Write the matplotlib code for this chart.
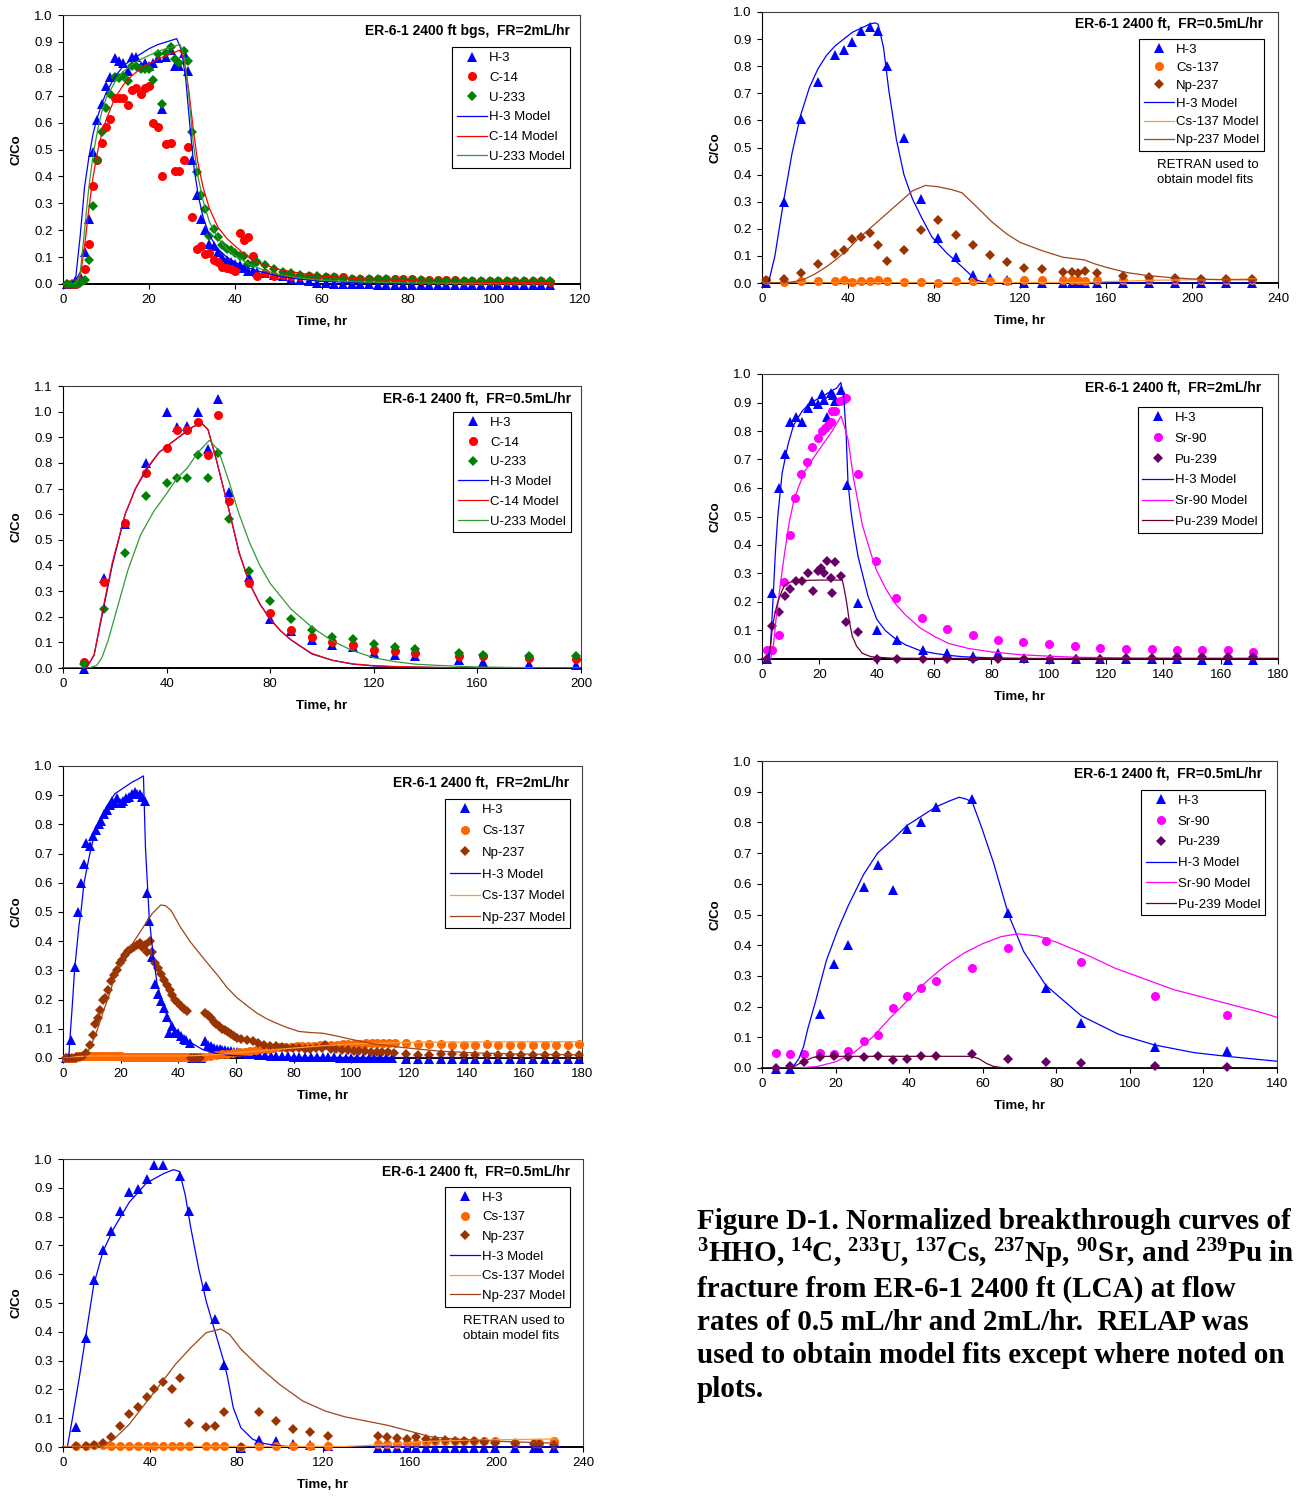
import matplotlib
matplotlib.use("Agg")
import numpy as np
import matplotlib.pyplot as plt
from matplotlib.lines import Line2D

plt.rcParams['font.family'] = ['Liberation Sans', 'DejaVu Sans']
plt.rcParams['mathtext.default'] = 'regular'

W, H = 1302, 1497

# ---------------- panel 1: FR=2 mL/hr, H-3 / C-14 / U-233 ----------------
p1_t = [1, 2, 3, 4, 5, 6, 7, 8, 9, 10, 11, 12, 13, 14, 15, 16, 17, 18, 19, 20,
        21, 22, 23, 24, 25, 26, 27, 28, 29, 30, 31, 32, 33, 34, 35, 36, 37, 38, 39, 40,
        41, 42, 43, 44, 45, 47, 49, 51, 53, 55, 57, 59, 61, 63, 65, 67, 69, 71, 73, 75,
        77, 79, 81, 83, 85, 87, 89, 91, 93, 95, 97, 99, 101, 103, 105, 107, 109, 111, 113]
p1_h3 = [0.0, 0.0, 0.01, 0.03, 0.12, 0.24, 0.49, 0.61, 0.67, 0.735, 0.77, 0.84, 0.83, 0.82, 0.79,
         0.845, 0.845, 0.81, 0.82, 0.81, 0.82, 0.84, 0.65, 0.845, 0.87, 0.81, 0.81, 0.86, 0.79, 0.46,
         0.33, 0.24, 0.2, 0.15, 0.14, 0.12, 0.10, 0.09, 0.08, 0.075, 0.07, 0.06, 0.05, 0.05, 0.045,
         0.04, 0.035, 0.03, 0.02, 0.015, 0.01, 0.005, 0.003, 0.0, 0.0, 0.0, 0.0, 0.0,
         -0.003, -0.003, -0.003, -0.003, -0.003, -0.003, -0.003, -0.003, -0.003, -0.003, -0.003,
         -0.003, -0.003, -0.003, -0.003, -0.003, -0.003, -0.003, -0.005, -0.005, -0.005]
p1_c14 = [0.0, 0.0, 0.0, 0.01, 0.055, 0.15, 0.365, 0.46, 0.525, 0.585, 0.615, 0.69, 0.69, 0.69, 0.665,
          0.72, 0.73, 0.705, 0.73, 0.735, 0.60, 0.585, 0.40, 0.52, 0.525, 0.42, 0.42, 0.46, 0.51, 0.25,
          0.13, 0.14, 0.11, 0.115, 0.09, 0.08, 0.065, 0.06, 0.055, 0.05, 0.19, 0.165, 0.175, 0.105, 0.03,
          0.04, 0.03, 0.035, 0.03, 0.03, 0.03, 0.025, 0.025, 0.025, 0.025, 0.02, 0.02, 0.02, 0.02, 0.02,
          0.018, 0.018, 0.018, 0.015, 0.015, 0.015, 0.015, 0.015, 0.012, 0.012, 0.012, 0.012,
          0.01, 0.01, 0.01, 0.01, 0.01, 0.01, 0.008]
p1_u233 = [0.0, 0.0, 0.0, 0.005, 0.015, 0.09, 0.29, 0.46, 0.565, 0.655, 0.705, 0.77, 0.765, 0.775, 0.755,
           0.81, 0.81, 0.80, 0.80, 0.80, 0.76, 0.855, 0.67, 0.86, 0.88, 0.835, 0.82, 0.865, 0.83, 0.565,
           0.415, 0.33, 0.28, 0.18, 0.205, 0.175, 0.145, 0.13, 0.125, 0.115, 0.105, 0.105, 0.075, 0.075, 0.08,
           0.07, 0.055, 0.045, 0.04, 0.035, 0.03, 0.03, 0.025, 0.025, 0.02, 0.02, 0.02, 0.02, 0.018, 0.018,
           0.015, 0.015, 0.015, 0.015, 0.012, 0.012, 0.012, 0.012,
           0.01, 0.01, 0.01, 0.01, 0.01, 0.01, 0.01, 0.01, 0.01, 0.01, 0.01]
p1m_h3_t = [0, 2, 3, 4, 5, 6, 7, 8, 9, 10, 12, 14, 16, 18, 20, 22, 24, 26.4, 27.5, 28.5, 29.5, 30.5,
            31.5, 32.5, 34, 36, 38, 40, 43, 46, 50, 55, 60, 70, 80, 113]
p1m_h3 = [0, 0, 0.03, 0.18, 0.36, 0.47, 0.56, 0.62, 0.67, 0.71, 0.77, 0.81, 0.835, 0.855, 0.875, 0.89,
          0.9, 0.912, 0.87, 0.76, 0.58, 0.42, 0.32, 0.25, 0.18, 0.13, 0.1, 0.08, 0.06, 0.045, 0.03,
          0.018, 0.01, 0.004, 0.002, 0.0]
p1m_c14_t = [0, 3, 4, 5, 6, 7, 8, 9, 10, 12, 14, 16, 18, 20, 22, 24, 26, 27.2, 28.2, 29.2, 30.2, 31.2,
             32.5, 34, 36, 38, 40, 43, 46, 50, 55, 60, 70, 80, 90, 113]
p1m_c14 = [0, 0, 0.03, 0.14, 0.28, 0.4, 0.49, 0.56, 0.61, 0.69, 0.74, 0.775, 0.8, 0.82, 0.835, 0.85,
           0.862, 0.87, 0.83, 0.72, 0.58, 0.46, 0.36, 0.28, 0.21, 0.17, 0.14, 0.1, 0.075, 0.055, 0.04,
           0.03, 0.018, 0.012, 0.008, 0.005]
p1m_u233_t = [0, 3, 4, 5, 6, 7, 8, 9, 10, 12, 14, 16, 18, 20, 22, 24, 26, 27.2, 28.2, 29.2, 30.2, 31.2,
              32.5, 34, 36, 38, 40, 43, 46, 50, 55, 60, 70, 80, 100, 113]
p1m_u233 = [0, 0, 0.04, 0.2, 0.36, 0.48, 0.57, 0.64, 0.69, 0.75, 0.79, 0.815, 0.835, 0.85, 0.865, 0.875,
            0.885, 0.89, 0.84, 0.7, 0.53, 0.41, 0.31, 0.23, 0.17, 0.13, 0.105, 0.075, 0.055, 0.035,
            0.022, 0.014, 0.007, 0.004, 0.001, 0.0]

# ---------------- panel 2: FR=0.5 mL/hr, H-3 / Cs-137 / Np-237 (RETRAN) ----------------
p2_t = [2, 10, 18, 26, 34, 38, 42, 46, 50, 54, 58, 66, 74, 82, 90, 98, 106, 114, 122, 130,
        140, 144, 147, 150, 156, 168, 180, 192, 204, 216, 228]
p2_h3 = [0, 0.3, 0.605, 0.74, 0.84, 0.86, 0.89, 0.93, 0.945, 0.93, 0.80, 0.535, 0.31, 0.165, 0.095,
         0.03, 0.02, 0.01, 0, 0, 0, 0, 0, 0, 0, 0, 0, 0, 0, 0, 0]
p2_cs = [0.01, 0.005, 0.008, 0.008, 0.008, 0.01, 0.005, 0.007, 0.007, 0.01, 0.007, 0.004, 0.004, 0.0,
         0.007, 0.007, 0.007, 0.007, 0.01, 0.01, 0.01, 0.01, 0.01, 0.007, 0.01, 0.01, 0.01, 0.01,
         0.01, 0.01, 0.01]
p2_np = [0.01, 0.015, 0.036, 0.07, 0.106, 0.123, 0.163, 0.17, 0.183, 0.14, 0.082, 0.123, 0.194, 0.234,
         0.176, 0.14, 0.103, 0.076, 0.056, 0.05, 0.04, 0.04, 0.038, 0.046, 0.037, 0.027, 0.022, 0.02,
         0.016, 0.015, 0.016]
p2m_h3_t = [0, 3, 6, 10, 14, 18, 22, 26, 30, 34, 38, 42, 46, 50, 52.5, 54, 56.5, 59, 62.5, 66, 70,
            74, 79, 86, 93, 97, 100, 104, 110, 130, 230]
p2m_h3 = [0, 0, 0.1, 0.3, 0.48, 0.62, 0.72, 0.79, 0.84, 0.875, 0.9, 0.925, 0.94, 0.955, 0.96, 0.955,
          0.87, 0.71, 0.53, 0.40, 0.31, 0.245, 0.17, 0.11, 0.06, 0.03, 0.01, 0.002, 0, 0, 0]
p2m_cs_t = [0, 150, 160, 170, 180, 200, 215, 230]
p2m_cs = [0, 0.002, 0.005, 0.007, 0.01, 0.012, 0.013, 0.015]
p2m_np_t = [0, 10, 15, 20, 25, 30, 35, 40, 45, 50, 55, 60, 65, 70, 76, 82, 88, 93, 100, 107, 114,
            120, 130, 140, 145, 150, 155, 160, 170, 180, 190, 200, 215, 230]
p2m_np = [0, 0, 0.005, 0.015, 0.035, 0.06, 0.09, 0.125, 0.165, 0.2, 0.235, 0.27, 0.305, 0.34, 0.36,
          0.355, 0.345, 0.333, 0.28, 0.225, 0.18, 0.15, 0.12, 0.095, 0.09, 0.085, 0.07, 0.058, 0.038,
          0.027, 0.02, 0.015, 0.012, 0.012]

# ---------------- panel 3: FR=0.5 mL/hr, H-3 / C-14 / U-233 ----------------
p3_t = [8, 16, 24, 32, 40, 44, 48, 52, 56, 60, 64, 72, 80, 88, 96, 104, 112, 120, 128, 136,
        153, 162, 180, 198]
p3_h3 = [-0.005, 0.35, 0.56, 0.80, 1.0, 0.94, 0.945, 1.0, 0.855, 1.05, 0.685, 0.355, 0.19, 0.145,
         0.11, 0.09, 0.08, 0.06, 0.05, 0.045, 0.03, 0.025, 0.015, 0.01]
p3_c14 = [0.025, 0.335, 0.565, 0.76, 0.86, 0.93, 0.93, 0.96, 0.83, 0.985, 0.65, 0.33, 0.215, 0.15,
          0.12, 0.10, 0.09, 0.07, 0.065, 0.06, 0.045, 0.045, 0.04, 0.035]
p3_u233 = [0.015, 0.23, 0.45, 0.67, 0.72, 0.74, 0.74, 0.83, 0.74, 0.84, 0.58, 0.38, 0.26, 0.19, 0.15,
           0.12, 0.115, 0.095, 0.08, 0.075, 0.06, 0.05, 0.045, 0.045]
p3m_t = [0, 9, 12, 15, 19, 24, 28, 32, 37, 42, 46, 50, 53.5, 56, 59, 62, 64, 68, 72, 76, 80, 84, 88,
         96, 104, 112, 120, 130, 150, 200]
p3m_h3 = [0, 0, 0.05, 0.2, 0.4, 0.6, 0.7, 0.77, 0.84, 0.88, 0.91, 0.94, 0.955, 0.93, 0.82, 0.7, 0.62,
          0.45, 0.33, 0.25, 0.19, 0.145, 0.11, 0.055, 0.03, 0.015, 0.008, 0.004, 0.001, 0]
p3m_c14 = [0, 0, 0.05, 0.21, 0.41, 0.6, 0.7, 0.775, 0.84, 0.88, 0.91, 0.94, 0.955, 0.93, 0.82, 0.7,
           0.62, 0.45, 0.33, 0.25, 0.19, 0.145, 0.11, 0.057, 0.03, 0.016, 0.009, 0.005, 0.001, 0]
p3m_u233_t = [0, 10, 13, 15, 17.5, 20, 22.5, 25, 30, 35, 40, 44, 48, 52, 56.5, 60, 64, 68, 72, 76, 80,
              88, 96, 104, 112, 120, 128, 136, 145, 160, 180, 200]
p3m_u233 = [0, 0, 0.01, 0.04, 0.11, 0.2, 0.29, 0.38, 0.52, 0.61, 0.68, 0.74, 0.78, 0.84, 0.888, 0.85,
            0.73, 0.6, 0.49, 0.40, 0.33, 0.23, 0.16, 0.105, 0.067, 0.04, 0.025, 0.015, 0.01, 0.004,
            0.001, 0]

# ---------------- panel 4: FR=2 mL/hr, H-3 / Sr-90 / Pu-239 ----------------
p4_h3_t = [1.6, 3.6, 6, 8, 9.7, 11.7, 13.9, 15.9, 17.6, 19.5, 20.9, 21.7, 22.8, 23.9, 24.8, 25.5, 27.6,
           29.6, 33.5, 40, 47.1, 56, 64.7, 73.6, 82.4, 91.5, 100.3, 109.4, 118, 127, 135.9, 144.7,
           153.5, 162.4, 171.3]
p4_h3 = [0, 0.23, 0.60, 0.72, 0.83, 0.85, 0.83, 0.88, 0.905, 0.895, 0.93, 0.91, 0.85, 0.935, 0.925,
         0.905, 0.945, 0.61, 0.195, 0.10, 0.065, 0.03, 0.02, 0.01, 0.02, 0.005, 0, 0, 0, 0, 0, 0,
         -0.005, -0.005, -0.005]
p4_sr_t = [1.6, 3.6, 6, 7.7, 9.7, 11.5, 13.7, 15.6, 17.6, 19.5, 20.8, 21.9, 22.9, 23.9, 24.5, 25.5, 27.2,
           28.2, 29.4, 33.5, 39.8, 46.7, 55.7, 64.6, 73.6, 82.4, 91.2, 100.1, 109.1, 118, 127, 135.9,
           144.7, 153.5, 162.4, 171.3]
p4_sr = [0.03, 0.03, 0.085, 0.27, 0.435, 0.565, 0.65, 0.69, 0.745, 0.775, 0.80, 0.81, 0.82, 0.83, 0.87,
         0.87, 0.905, 0.91, 0.915, 0.65, 0.345, 0.215, 0.145, 0.105, 0.083, 0.068, 0.06, 0.053, 0.046,
         0.04, 0.036, 0.036, 0.033, 0.033, 0.032, 0.025]
p4_pu_t = [1.6, 3.6, 6, 8, 9.9, 11.7, 13.9, 15.9, 17.9, 19.5, 20.5, 21.5, 22.8, 23.9, 24.5, 25.6, 27.6,
           29.4, 33.5, 40, 47.1, 56, 64.7, 73.6, 82.4, 91.5, 100.3, 109.4, 118, 127, 135.9, 144.7,
           153.5, 162.4, 171.3]
p4_pu = [0, 0.115, 0.165, 0.22, 0.245, 0.275, 0.275, 0.30, 0.24, 0.31, 0.32, 0.30, 0.345, 0.285, 0.23,
         0.34, 0.29, 0.13, 0.095, 0, 0, 0, 0, 0, 0, 0, 0, 0, 0, 0.005, 0.003, 0.007, 0.007, 0.007, 0.007]
p4m_h3_t = [0, 2, 3, 3.8, 4.7, 5.5, 7, 9, 11, 14, 17, 21, 24, 26, 27.5, 28.5, 29.3, 30, 31, 32, 33.5,
            35, 37, 40, 43, 46, 50, 55, 60, 65, 70, 80, 95, 180]
p4m_h3 = [0, 0, 0.05, 0.2, 0.38, 0.5, 0.65, 0.75, 0.82, 0.87, 0.9, 0.92, 0.94, 0.95, 0.97, 0.92, 0.8,
          0.62, 0.52, 0.45, 0.36, 0.3, 0.22, 0.14, 0.1, 0.075, 0.05, 0.03, 0.02, 0.013, 0.008, 0.004,
          0.001, 0]
p4m_sr_t = [0, 3, 4, 5, 6.5, 8, 9.5, 11, 12.6, 15, 17.6, 21, 24.5, 27.6, 29.2, 30, 31, 32, 33.5, 35,
            38, 40, 43, 46, 50, 55, 60, 65, 72, 80, 90, 100, 110, 130, 180]
p4m_sr = [0, 0, 0.05, 0.15, 0.27, 0.38, 0.48, 0.55, 0.6, 0.66, 0.7, 0.75, 0.8, 0.852, 0.8, 0.77, 0.7,
          0.63, 0.55, 0.47, 0.37, 0.31, 0.25, 0.2, 0.155, 0.11, 0.08, 0.055, 0.037, 0.025, 0.015, 0.01,
          0.006, 0.003, 0.002]
p4m_pu_t = [0, 2.5, 3.5, 4.5, 5.5, 7, 8, 10, 12, 20, 28, 28.6, 29.5, 30.5, 31.5, 33, 35, 38, 45, 60, 180]
p4m_pu = [0, 0, 0.1, 0.16, 0.2, 0.24, 0.26, 0.27, 0.275, 0.277, 0.277, 0.25, 0.2, 0.13, 0.08, 0.045,
          0.02, 0.008, 0.003, 0.002, 0.002]

# ---------------- panel 5: FR=2 mL/hr, H-3 / Cs-137 / Np-237 ----------------
p5_h3_t = [1.0, 1.8, 2.7, 4.3, 5.3, 6.3, 7.3, 8.0, 9.3, 10.4, 11.6, 12.4, 13.3, 14.2, 15.3, 16.2, 17.0,
           18.0, 18.9, 20.0, 20.9, 22.0, 22.9, 24.0, 24.9, 25.7, 26.6, 27.3, 28.3, 29.0, 29.9, 30.9,
           31.9, 32.9, 33.9, 35.0, 35.9, 36.8, 37.9, 38.8, 39.9, 40.8, 41.9, 42.8, 43.9, 44.9, 46.0,
           47.0, 48.0, 49.2, 50.3, 51.3, 52.3, 53.3, 54.3, 55.3, 56.3, 57.3, 58.3, 59.3, 60.5,
           62, 64, 66, 68, 70, 72, 74, 76, 78, 80, 82, 84, 86, 88, 90, 92, 94, 96, 98, 100, 102, 104,
           106, 108, 110, 112, 114, 119, 123, 127, 131, 135, 139, 143, 147, 151, 155, 159, 163, 167,
           171, 175, 179]
p5_h3 = [0, 0, 0.063, 0.31, 0.5, 0.6, 0.665, 0.735, 0.725, 0.76, 0.78, 0.80, 0.81, 0.835, 0.85, 0.865,
         0.88, 0.875, 0.89, 0.875, 0.88, 0.89, 0.895, 0.905, 0.91, 0.905, 0.905, 0.895, 0.88, 0.565,
         0.47, 0.345, 0.255, 0.22, 0.195, 0.17, 0.14, 0.085, 0.11, 0.09, 0.085, 0.075, 0.065, 0.06,
         0.05, 0, 0, 0, 0, 0.057, 0.045, 0.04, 0.035, 0.03, 0.03, 0.028, 0.027, 0.025, 0.025, 0.022,
         0.02, 0.018, 0.015, 0.012, 0.01, 0.01, 0.008, 0.008, 0.007, 0.006, 0.005, 0.005, 0.004,
         0.004, 0.003, 0.003, 0.002, 0.002, 0.001, 0.001, 0, 0, 0, 0, 0, 0, 0, 0,
         -0.005, -0.005, -0.005, -0.005, -0.005, -0.005, -0.005, -0.005, -0.005, -0.005, -0.005,
         -0.005, -0.005, -0.005, -0.005, -0.005]
p5_cs_t = [1, 2, 3, 4, 5, 6, 7, 8, 9, 10, 11, 12, 13, 14, 15, 16, 17, 18, 19, 20, 21, 22, 23, 24,
           25, 26, 27, 28, 29, 30, 31, 32, 33, 34, 35, 36, 37, 38, 39, 40, 41, 42, 43, 44, 45, 46,
           47, 48, 49, 51, 53, 55, 57, 59, 61, 63, 65, 67, 69, 71, 73, 75, 77, 79, 81, 83, 85, 87,
           89, 91, 93, 95, 97, 99, 101, 103, 105, 107, 109, 111, 113, 115, 119, 123, 127, 131, 135,
           139, 143, 147, 151, 155, 159, 163, 167, 171, 175, 179]
p5_cs = [0.0, 0.0, 0.0, 0.0, 0.006, 0.006, 0.006, 0.006, 0.006, 0.006, 0.006, 0.006, 0.006, 0.006,
         0.006, 0.006, 0.006, 0.006, 0.006, 0.006, 0.003, 0.003, 0.003, 0.003, 0.003, 0.003, 0.003,
         0.003, 0.003, 0.003, 0.003, 0.003, 0.003, 0.003, 0.003, 0.003, 0.003, 0.003, 0.003, 0.003,
         0.003, 0.003, 0.003, 0.003, 0.003, 0.003, 0.003, 0.003,
         0.005, 0.008, 0.01, 0.012, 0.015, 0.018, 0.02, 0.022, 0.025, 0.027, 0.03, 0.032, 0.034,
         0.036, 0.037, 0.038, 0.04, 0.04, 0.041, 0.042, 0.044, 0.045, 0.046, 0.046, 0.047, 0.048,
         0.048, 0.049, 0.05, 0.05, 0.05, 0.05, 0.05, 0.05,
         0.05, 0.048, 0.047, 0.047, 0.046, 0.046, 0.046, 0.047, 0.046, 0.045, 0.045, 0.045, 0.045,
         0.046, 0.046, 0.048]
p5_np_t = [1, 2, 3, 4, 5, 6, 7, 8, 9.3, 10.4, 11, 12, 12.9, 13.7, 14.6, 15.7, 16.6, 17.6, 18.6, 19.6,
           20.6, 21.6, 22.6, 23.7, 24.6, 25.5, 26.6, 27.5, 28.6, 29.3, 30.2, 31, 31.9, 32.9, 33.9,
           35, 35.9, 37, 37.9, 39, 39.9, 41, 41.9, 43, 44.5, 45.5, 46.5, 47.5, 49.2, 50.3, 51.2, 52.3,
           53.2, 54.1, 55.2, 56.3, 57.2, 58.3, 59.2, 60.5, 61.9, 63.9, 65.9, 67.8, 69.8, 71.8, 73.8,
           75.8, 77.8, 79.8, 81.8, 83.8, 85.8, 87.8, 89.8, 91, 92.8, 94.8, 96.8, 98.8, 100.8, 102.8,
           104.8, 106.8, 108.8, 110.8, 112.8, 114.8, 119, 123, 127, 131, 135, 139, 143, 147, 151,
           155, 159, 163, 167, 171, 175, 179]
p5_np = [0, 0, 0, 0, 0.003, 0.005, 0.008, 0.017, 0.045, 0.08, 0.115, 0.137, 0.165, 0.2, 0.205, 0.233,
         0.262, 0.285, 0.30, 0.325, 0.336, 0.353, 0.367, 0.372, 0.38, 0.387, 0.395, 0.38, 0.387, 0.364,
         0.402, 0.364, 0.325, 0.307, 0.288, 0.268, 0.25, 0.233, 0.216, 0.2, 0.188, 0.177, 0.167, 0.16,
         0, 0, 0, 0, 0.154, 0.148, 0.137, 0.125, 0.117, 0.11, 0.1, 0.097, 0.088, 0.083, 0.076, 0.07,
         0.066, 0.06, 0.057, 0.051, 0.045, 0.042, 0.04, 0.036, 0.035, 0.034, 0.033, 0.032, 0.032,
         0.033, 0.035, 0.045, 0.032, 0.03, 0.028, 0.026, 0.025, 0.024, 0.023, 0.022, 0.021, 0.02,
         0.02, 0.017, 0.015, 0.011, 0.011, 0.015, 0.013, 0.011, 0.01, 0.011, 0.011, 0.011, 0.011,
         0.011, 0.011, 0.009, 0.009, 0.009]
p5m_h3_t = [0, 1.5, 2, 2.5, 3.3, 4, 4.7, 5.5, 6.3, 7.3, 8.9, 10, 11.3, 13, 15, 18, 21, 24, 26, 27.9,
            28.6, 29.9, 31.3, 32.6, 35.2, 37.8, 40.4, 44.6, 48.6, 52.5, 57.9, 65, 75, 90, 180]
p5m_h3 = [0, 0, 0.0, 0.08, 0.19, 0.3, 0.37, 0.45, 0.507, 0.6, 0.68, 0.73, 0.78, 0.82, 0.86, 0.905,
          0.925, 0.945, 0.955, 0.966, 0.72, 0.48, 0.35, 0.256, 0.165, 0.108, 0.072, 0.051, 0.028,
          0.017, 0.009, 0.005, 0.003, 0.002, 0.001]
p5m_cs_t = [0, 3, 5, 10, 20, 30, 40, 45, 50, 55, 60, 65, 70, 75, 80, 85, 90, 95, 100, 110, 120, 130,
            150, 180]
p5m_cs = [0, 0.002, 0.005, 0.007, 0.007, 0.007, 0.007, 0.008, 0.01, 0.013, 0.018, 0.022, 0.026, 0.03,
          0.034, 0.038, 0.042, 0.045, 0.048, 0.051, 0.053, 0.054, 0.055, 0.056]
p5m_np_t = [0, 7, 8, 9, 10.6, 12, 14, 16, 18, 20, 23.3, 26, 28.6, 31, 33.9, 35.5, 37.5, 40.6, 44, 47.2,
            50.5, 53.9, 57, 60.5, 64, 67.2, 70.5, 73.8, 77.5, 81.8, 86, 90, 95, 100.4, 108, 117.7,
            131, 144, 157.6, 180]
p5m_np = [0, 0, 0.011, 0.03, 0.063, 0.1, 0.16, 0.215, 0.28, 0.32, 0.38, 0.42, 0.46, 0.495, 0.524, 0.522,
          0.505, 0.45, 0.4, 0.36, 0.32, 0.28, 0.24, 0.205, 0.178, 0.154, 0.135, 0.12, 0.105, 0.091,
          0.087, 0.085, 0.075, 0.063, 0.048, 0.036, 0.023, 0.017, 0.014, 0.011]

# ---------------- panel 6: FR=0.5 mL/hr, H-3 / Sr-90 / Pu-239 ----------------
p6_t = [3.9, 7.7, 11.5, 15.7, 19.6, 23.5, 27.6, 31.4, 35.6, 39.4, 43.3, 47.2, 57.2, 67, 77.1, 86.8,
        106.7, 126.3]
p6_h3_t = [3.9, 7.7, 15.7, 19.6, 23.5, 27.6, 31.4, 35.6, 39.4, 43.3, 47.2, 57.2, 67, 77.1, 86.8,
           106.7, 126.3]
p6_h3 = [-0.003, -0.003, 0.175, 0.34, 0.40, 0.59, 0.66, 0.58, 0.78, 0.80, 0.85, 0.875, 0.505, 0.26,
         0.145, 0.07, 0.055]
p6_sr = [0.05, 0.045, 0.045, 0.05, 0.045, 0.055, 0.088, 0.108, 0.195, 0.235, 0.26, 0.285, 0.325, 0.39,
         0.415, 0.345, 0.235, 0.173]
p6_pu = [0.0, 0.005, 0.02, 0.035, 0.04, 0.035, 0.035, 0.038, 0.025, 0.028, 0.04, 0.04, 0.045, 0.028,
         0.02, 0.017, 0.005, 0.003]
p6m_h3_t = [0, 7, 8.2, 10, 11.3, 12.5, 14.4, 17.5, 20.6, 23.5, 27.6, 31.4, 35.6, 39.4, 43.3, 47.2, 51,
            53.6, 55.7, 57.2, 59.8, 62.9, 67, 71.1, 77.1, 86.8, 96.9, 106.7, 117.5, 126.3, 140]
p6m_h3 = [0, 0, 0, 0.03, 0.07, 0.13, 0.21, 0.35, 0.45, 0.53, 0.63, 0.7, 0.745, 0.79, 0.82, 0.85, 0.87,
          0.882, 0.875, 0.865, 0.78, 0.67, 0.5, 0.38, 0.27, 0.17, 0.11, 0.075, 0.05, 0.038, 0.022]
p6m_sr_t = [0, 10, 15, 20, 25, 30, 35, 40, 45, 50, 55, 60, 65, 69.6, 75, 80, 88, 96, 104, 112, 120,
            128, 136, 140]
p6m_sr = [0, 0, 0.005, 0.02, 0.05, 0.1, 0.165, 0.225, 0.285, 0.335, 0.375, 0.405, 0.428, 0.437, 0.43,
          0.41, 0.37, 0.325, 0.29, 0.255, 0.23, 0.205, 0.18, 0.165]
p6m_pu_t = [0, 8, 11, 14, 17, 57, 59, 61, 63, 66, 140]
p6m_pu = [0, 0, 0.02, 0.035, 0.038, 0.038, 0.03, 0.015, 0.005, 0, 0]

# ---------------- panel 7: FR=0.5 mL/hr, H-3 / Cs-137 / Np-237 (RETRAN) ----------------
p7_t = [6.2, 10.5, 14.2, 18.5, 22.2, 26.5, 30.6, 34.5, 38.6, 42.1, 46.2, 50.1, 54.2, 58.1, 66.1, 70.2,
        74.5, 82.1, 90.5, 98.1, 106.1, 114.1, 122.1, 145.2, 149.7, 154.1, 158.6, 163, 167.5, 171.9,
        176.4, 180.8, 185.2, 189.7, 194.1, 199.5, 208.4, 217.2, 219.9, 226.7]
p7_h3_t = [6.2, 10.5, 14.2, 18.5, 22.2, 26.5, 30.6, 34.5, 38.6, 42.1, 46.2, 54.2, 58.1, 66.1, 70.2,
           74.5, 82.1, 90.5, 98.1, 106.1, 114.1, 122.1, 145.2, 149.7, 154.1, 158.6, 163, 167.5, 171.9,
           176.4, 180.8, 185.2, 189.7, 194.1, 199.5, 208.4, 217.2, 219.9, 226.7]
p7_h3 = [0.07, 0.38, 0.58, 0.685, 0.75, 0.82, 0.885, 0.895, 0.93, 0.98, 0.98, 0.94, 0.82, 0.56, 0.445,
         0.285, -0.005, 0.025, 0.02, 0.012, 0.008, 0.005, -0.003, -0.003, -0.003, -0.003, -0.003,
         -0.003, -0.003, -0.003, -0.003, -0.005, -0.005, -0.005, -0.005, -0.005, -0.005, -0.005,
         -0.005]
p7_cs = [0.005, 0.005, 0.008, 0.008, 0.005, 0.003, 0.002, 0.002, 0.003, 0.002, 0.002, 0.002, 0.004,
         0.005, 0.005, 0.005, 0.005, 0.0, 0.002, 0.002, 0.005, 0.005, 0.005, 0.01, 0.01, 0.012, 0.015,
         0.015, 0.018, 0.02, 0.02, 0.02, 0.02, 0.022, 0.02, 0.02, 0.015, 0.015, 0.015, 0.02]
p7_np = [0.005, 0.005, 0.008, 0.015, 0.035, 0.072, 0.113, 0.14, 0.175, 0.2, 0.225, 0.2, 0.24, 0.082,
         0.068, 0.072, 0.123, 0.0, 0.12, 0.09, 0.064, 0.052, 0.038, 0.037, 0.034, 0.032, 0.027, 0.035,
         0.027, 0.023, 0.023, 0.021, 0.02, 0.02, 0.018, 0.015, 0.013, 0.01, 0.01, 0.008]
p7m_h3_t = [0, 2, 3.9, 7.5, 10.5, 14.2, 18.5, 23.5, 30.6, 38.6, 46.6, 51, 53.7, 56.4, 59, 62.6, 66.1,
            70.2, 74.1, 76, 78.6, 82.1, 87.5, 92.8, 98, 105, 120, 230]
p7m_h3 = [0, 0, 0.08, 0.24, 0.385, 0.564, 0.68, 0.76, 0.85, 0.917, 0.95, 0.963, 0.957, 0.876, 0.76,
          0.62, 0.506, 0.40, 0.3, 0.24, 0.136, 0.067, 0.027, 0.012, 0.006, 0.001, 0, 0]
p7m_cs_t = [0, 130, 140, 150, 160, 170, 180, 200, 228]
p7m_cs = [0.002, 0.002, 0.005, 0.01, 0.015, 0.02, 0.022, 0.025, 0.028]
p7m_np_t = [0, 15, 18.1, 23.5, 30.6, 37.7, 44.8, 51.9, 59, 66.1, 72.9, 77, 82.1, 91, 100, 110.6, 121,
            130, 140, 150, 160, 170, 180, 200, 228]
p7m_np = [0, 0, 0.003, 0.027, 0.079, 0.148, 0.217, 0.287, 0.345, 0.397, 0.41, 0.39, 0.34, 0.275, 0.217,
          0.16, 0.125, 0.105, 0.09, 0.075, 0.055, 0.035, 0.028, 0.02, 0.013]

CAPTION = [
    "Figure D-1. Normalized breakthrough curves of",
    "$^{3}$HHO, $^{14}$C, $^{233}$U, $^{137}$Cs, $^{237}$Np, $^{90}$Sr, and $^{239}$Pu in",
    "fracture from ER-6-1 2400 ft (LCA) at flow",
    "rates of 0.5 mL/hr and 2mL/hr.  RELAP was",
    "used to obtain model fits except where noted on",
    "plots.",
]

# colours
BLUE = '#0000FF'
RED = '#FF0000'
GREEN_M, GREEN_L = '#008000', '#339933'
ORANGE_M, ORANGE_L = '#FF6600', '#FF9933'
BROWN_M, BROWN_L = '#993300', '#A0451A'
MAGENTA = '#FF00FF'
PURPLE_M, PURPLE_L = '#660066', '#660033'

TRI = ('^', 7.0)
CIR = ('o', 6.5)
DIA = ('D', 5.2)


def rect(l, t, r, b):
    return [l / W, 1 - b / H, (r - l) / W, (b - t) / H]


def panel(ax, xmax, xstep, ymax, title, title_xy, series, models, leg_xy, leg_space, note_xy=None):
    for t, y, (mk, ms), col, lab in series:
        ax.plot(t, y, ls='none', marker=mk, ms=ms, color=col, mew=0, clip_on=False, zorder=3)
    for t, y, col, lab in models:
        ax.plot(t, y, color=col, lw=0.9, zorder=4)

    ax.set_xlim(0, xmax)
    ax.set_ylim(0, ymax)
    ax.set_xticks(np.arange(0, xmax + 1, xstep))
    yt = np.arange(0, ymax + 0.001, 0.1)
    ax.set_yticks(yt)
    ax.set_yticklabels([f'{v:.1f}' for v in yt])
    ax.tick_params(direction='out', length=3.5, width=0.8, labelsize=9.5, pad=4,
                   top=False, right=False)
    for s in ('top', 'right'):
        ax.spines[s].set_color('#404040')
        ax.spines[s].set_linewidth(0.8)
    ax.spines['left'].set_linewidth(0.8)
    ax.spines['bottom'].set_linewidth(1.4)
    ax.set_xlabel('Time, hr', fontsize=9.5, fontweight='bold', labelpad=7)
    ax.set_ylabel('C/Co', fontsize=9.5, fontweight='bold', labelpad=8)

    ax.text(title_xy[0], title_xy[1], title, transform=ax.transAxes, ha='right', va='center',
            fontsize=10, fontweight='bold')

    handles = [Line2D([], [], ls='none', marker=mk, ms=ms, color=col, mew=0)
               for t, y, (mk, ms), col, lab in series]
    handles += [Line2D([], [], color=col, lw=0.9) for t, y, col, lab in models]
    labels = [s[-1] for s in series] + [m[-1] for m in models]
    leg = ax.legend(handles, labels, loc='upper right', bbox_to_anchor=leg_xy, borderaxespad=0,
                    fontsize=9.5, frameon=True, fancybox=False, edgecolor='black', framealpha=1,
                    handlelength=2.3, handletextpad=0.15, labelspacing=leg_space, borderpad=0.35)
    leg.get_frame().set_linewidth(0.8)

    if note_xy is not None:
        ax.text(note_xy[0], note_xy[1], 'RETRAN used to\nobtain model fits', transform=ax.transAxes,
                ha='left', va='top', fontsize=9.5, linespacing=1.3)


fig = plt.figure(figsize=(W / 100, H / 100), dpi=100)

ax1 = fig.add_axes(rect(63, 15, 580, 284))
panel(ax1, 120, 20, 1.0, 'ER-6-1 2400 ft bgs,  FR=2mL/hr', (0.98, 0.94),
      [(p1_t, p1_h3, TRI, BLUE, 'H-3'), (p1_t, p1_c14, CIR, RED, 'C-14'),
       (p1_t, p1_u233, DIA, GREEN_M, 'U-233')],
      [(p1m_h3_t, p1m_h3, BLUE, 'H-3 Model'), (p1m_c14_t, p1m_c14, RED, 'C-14 Model'),
       (p1m_u233_t, p1m_u233, GREEN_L, 'U-233 Model')],
      (0.98, 0.88), 0.57)

ax2 = fig.add_axes(rect(762, 12, 1278, 283))
panel(ax2, 240, 40, 1.0, 'ER-6-1 2400 ft,  FR=0.5mL/hr', (0.971, 0.956),
      [(p2_t, p2_h3, TRI, BLUE, 'H-3'), (p2_t, p2_cs, CIR, ORANGE_M, 'Cs-137'),
       (p2_t, p2_np, DIA, BROWN_M, 'Np-237')],
      [(p2m_h3_t, p2m_h3, BLUE, 'H-3 Model'), (p2m_cs_t, p2m_cs, ORANGE_L, 'Cs-137 Model'),
       (p2m_np_t, p2m_np, BROWN_L, 'Np-237 Model')],
      (0.973, 0.90), 0.44, note_xy=(0.766, 0.458))

ax3 = fig.add_axes(rect(63, 386, 581, 668))
panel(ax3, 200, 40, 1.1, 'ER-6-1 2400 ft,  FR=0.5mL/hr', (0.98, 0.954),
      [(p3_t, p3_h3, TRI, BLUE, 'H-3'), (p3_t, p3_c14, CIR, RED, 'C-14'),
       (p3_t, p3_u233, DIA, GREEN_M, 'U-233')],
      [(p3m_t, p3m_h3, BLUE, 'H-3 Model'), (p3m_t, p3m_c14, RED, 'C-14 Model'),
       (p3m_u233_t, p3m_u233, GREEN_L, 'U-233 Model')],
      (0.98, 0.908), 0.57)

ax4 = fig.add_axes(rect(762, 374, 1278, 659))
panel(ax4, 180, 20, 1.0, 'ER-6-1 2400 ft,  FR=2mL/hr', (0.967, 0.951),
      [(p4_h3_t, p4_h3, TRI, BLUE, 'H-3'), (p4_sr_t, p4_sr, CIR, MAGENTA, 'Sr-90'),
       (p4_pu_t, p4_pu, DIA, PURPLE_M, 'Pu-239')],
      [(p4m_h3_t, p4m_h3, BLUE, 'H-3 Model'), (p4m_sr_t, p4m_sr, MAGENTA, 'Sr-90 Model'),
       (p4m_pu_t, p4m_pu, PURPLE_L, 'Pu-239 Model')],
      (0.969, 0.884), 0.65)

ax5 = fig.add_axes(rect(63, 766, 582, 1058))
panel(ax5, 180, 20, 1.0, 'ER-6-1 2400 ft,  FR=2mL/hr', (0.975, 0.945),
      [(p5_h3_t, p5_h3, TRI, BLUE, 'H-3'), (p5_cs_t, p5_cs, CIR, ORANGE_M, 'Cs-137'),
       (p5_np_t, p5_np, DIA, BROWN_M, 'Np-237')],
      [(p5m_h3_t, p5m_h3, BLUE, 'H-3 Model'), (p5m_cs_t, p5m_cs, ORANGE_L, 'Cs-137 Model'),
       (p5m_np_t, p5m_np, BROWN_L, 'Np-237 Model')],
      (0.977, 0.887), 0.71)

ax6 = fig.add_axes(rect(762, 761, 1277, 1068))
panel(ax6, 140, 20, 1.0, 'ER-6-1 2400 ft,  FR=0.5mL/hr', (0.971, 0.958),
      [(p6_h3_t, p6_h3, TRI, BLUE, 'H-3'), (p6_t, p6_sr, CIR, MAGENTA, 'Sr-90'),
       (p6_t, p6_pu, DIA, PURPLE_M, 'Pu-239')],
      [(p6m_h3_t, p6m_h3, BLUE, 'H-3 Model'), (p6m_sr_t, p6m_sr, MAGENTA, 'Sr-90 Model'),
       (p6m_pu_t, p6m_pu, PURPLE_L, 'Pu-239 Model')],
      (0.977, 0.906), 0.65)

ax7 = fig.add_axes(rect(63, 1159, 583, 1447))
panel(ax7, 240, 40, 1.0, 'ER-6-1 2400 ft,  FR=0.5mL/hr', (0.975, 0.958),
      [(p7_h3_t, p7_h3, TRI, BLUE, 'H-3'), (p7_t, p7_cs, CIR, ORANGE_M, 'Cs-137'),
       (p7_t, p7_np, DIA, BROWN_M, 'Np-237')],
      [(p7m_h3_t, p7m_h3, BLUE, 'H-3 Model'), (p7m_cs_t, p7m_cs, ORANGE_L, 'Cs-137 Model'),
       (p7m_np_t, p7m_np, BROWN_L, 'Np-237 Model')],
      (0.975, 0.903), 0.56, note_xy=(0.769, 0.458))

# caption
for i, line in enumerate(CAPTION):
    fig.text(697 / W, 1 - (1229 + 33.6 * i) / H, line, ha='left', va='baseline',
             fontsize=21, fontweight='bold', family='Liberation Serif')

fig.savefig('out.png', dpi=100)
